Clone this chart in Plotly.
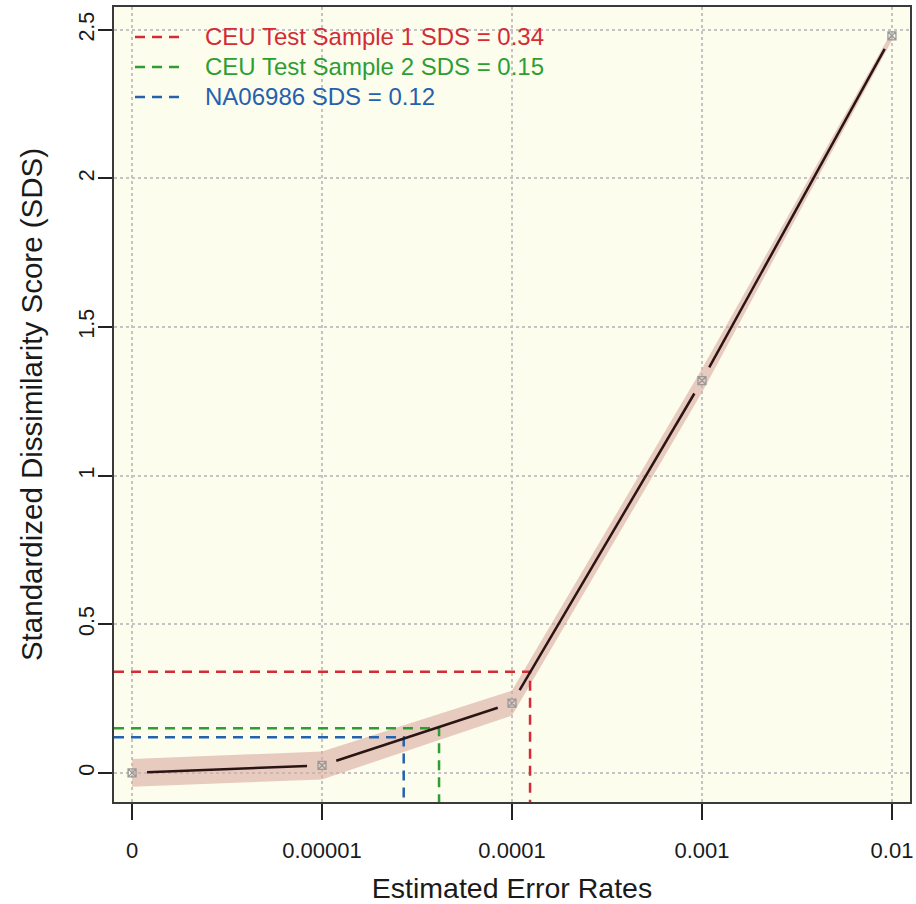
import plotly.graph_objects as go

# ---- data ----
x_labels = ["0", "0.00001", "0.0001", "0.001", "0.01"]
x_pos = [0, 1, 2, 3, 4]
sds_mean = [0.0, 0.025, 0.235, 1.32, 2.48]
band_lo = [-0.047, -0.022, 0.193, 1.28, 2.465]
band_hi = [0.047, 0.072, 0.277, 1.36, 2.495]

ref_names = ["CEU Test Sample 1 SDS = 0.34", "CEU Test Sample 2 SDS = 0.15", "NA06986 SDS = 0.12"]
ref_sds = [0.34, 0.15, 0.12]
ref_xpos = [2.095, 1.616, 1.43]
ref_colors = ["#D42B35", "#2E9E33", "#2462AE"]

y_ticks = [0, 0.5, 1, 1.5, 2, 2.5]
y_ticktext = ["0", "0.5", "1", "1.5", "2", "2.5"]

# ---- layout constants ----
W, H = 916, 904
ML, MR, MT, MB = 114, 6, 7, 102
XR = [-0.095, 4.095]
YR = [-0.098, 2.577]
FONT = "Liberation Sans, Arial, Helvetica, sans-serif"
pw = W - ML - MR
ph = H - MT - MB

fig = go.Figure()

# confidence ribbon
fig.add_trace(go.Scatter(x=x_pos + x_pos[::-1], y=band_hi + band_lo[::-1],
                         fill="toself", fillcolor="rgba(218,170,160,0.6)",
                         line=dict(width=0), mode="lines", showlegend=False,
                         hoverinfo="skip"))

# reference dashed lines
for nm, yv, xv, col in zip(ref_names, ref_sds, ref_xpos, ref_colors):
    fig.add_trace(go.Scatter(x=[XR[0], xv, xv], y=[yv, yv, YR[0]], mode="lines",
                             line=dict(color=col, width=2.5, dash="10px,7px"),
                             name=nm, showlegend=False))

# black line with gaps around points (R type="b")
def to_px(x, y):
    return ((x - XR[0]) / (XR[1] - XR[0]) * pw, (y - YR[0]) / (YR[1] - YR[0]) * ph)
def from_px(px, py):
    return (XR[0] + px / pw * (XR[1] - XR[0]), YR[0] + py / ph * (YR[1] - YR[0]))
gap = 15
lx, ly = [], []
for i in range(len(x_pos) - 1):
    a = to_px(x_pos[i], sds_mean[i])
    b = to_px(x_pos[i + 1], sds_mean[i + 1])
    d = ((b[0] - a[0]) ** 2 + (b[1] - a[1]) ** 2) ** 0.5
    f = gap / d
    p1 = from_px(a[0] + f * (b[0] - a[0]), a[1] + f * (b[1] - a[1]))
    p2 = from_px(b[0] - f * (b[0] - a[0]), b[1] - f * (b[1] - a[1]))
    lx += [p1[0], p2[0], None]
    ly += [p1[1], p2[1], None]
fig.add_trace(go.Scatter(x=lx, y=ly, mode="lines", line=dict(color="#2a1414", width=2.5),
                         showlegend=False, hoverinfo="skip"))
fig.add_trace(go.Scatter(x=x_pos, y=sds_mean, mode="markers",
                         marker=dict(symbol="square-x-open", size=8, color="#999999",
                                     line=dict(width=1.3, color="#999999")),
                         showlegend=False))

# manual legend (top-left, inside plot)
leg_y_px = [37, 67, 97]
for nm, col, py in zip(ref_names, ref_colors, leg_y_px):
    yp = 1 - (py - MT) / ph
    fig.add_shape(type="line", xref="paper", yref="paper",
                  x0=(135 - ML) / pw, x1=(181 - ML) / pw, y0=yp, y1=yp,
                  line=dict(color=col, width=2.5, dash="10px,7px"))
    fig.add_annotation(xref="paper", yref="paper", x=(203 - ML) / pw, y=yp,
                       xanchor="left", yanchor="middle", text=nm, showarrow=False,
                       font=dict(family=FONT, size=24, color=col))

axis_common = dict(showline=True, mirror=True, linecolor="#3a3a3a", linewidth=1.5,
                   ticks="outside", tickcolor="#222", tickwidth=1.5,
                   showgrid=True, gridcolor="#c4c4c4", griddash="dot", gridwidth=1.5,
                   zeroline=False)

fig.update_layout(
    width=W, height=H,
    margin=dict(l=ML, r=MR, t=MT, b=MB),
    paper_bgcolor="white", plot_bgcolor="#FDFDEE",
    font=dict(family=FONT, color="#1a1a1a"),
    showlegend=False,
    xaxis=dict(range=XR, tickvals=x_pos, ticktext=x_labels, ticklen=16, ticklabelstandoff=12,
               tickfont=dict(family=FONT, size=22, color="#1a1a1a"),
               title=dict(text="Estimated Error Rates", font=dict(family=FONT, size=28.5), standoff=16),
               automargin=False, **axis_common),
    yaxis=dict(range=YR, tickvals=y_ticks, ticktext=y_ticktext, ticklen=14, tickangle=-90,
               ticklabelstandoff=-4,
               tickfont=dict(family=FONT, size=21.5, color="#1a1a1a"),
               title=dict(text="Standardized Dissimilarity Score (SDS)", font=dict(family=FONT, size=29.5), standoff=23),
               automargin=False, **axis_common),
)

fig.write_html("out.html", config={"displayModeBar": False},
               post_script="document.body.style.margin='0';")
